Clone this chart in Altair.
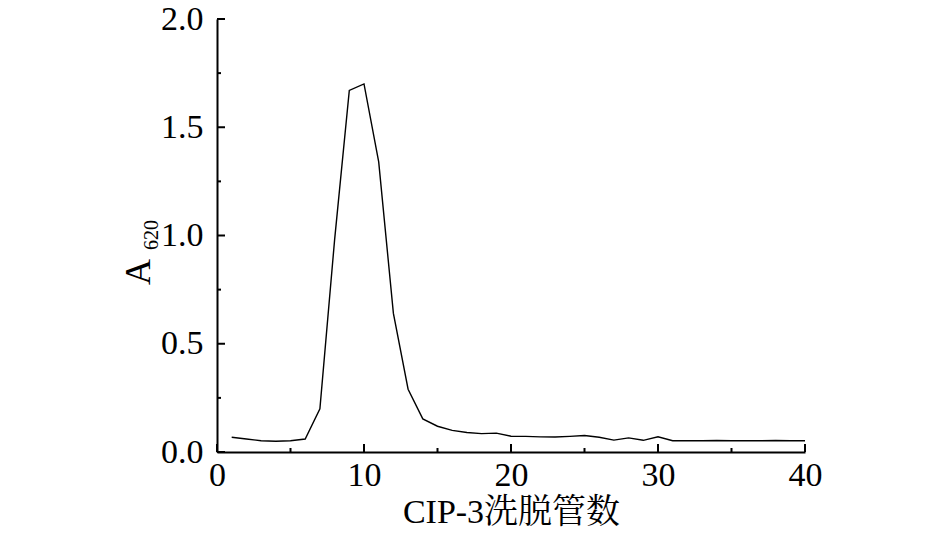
import altair as alt
import pandas as pd

tubes = list(range(1, 41))
a620 = [0.068, 0.060, 0.052, 0.050, 0.052, 0.060, 0.20, 0.98, 1.67, 1.70,
        1.34, 0.64, 0.29, 0.153, 0.119, 0.100, 0.090, 0.085, 0.087, 0.073,
        0.072, 0.070, 0.069, 0.072, 0.076, 0.068, 0.055, 0.065, 0.054, 0.070,
        0.052, 0.052, 0.052, 0.053, 0.052, 0.052, 0.052, 0.053, 0.052, 0.052]

x_major = [0, 10, 20, 30, 40]
x_minor = [5, 15, 25, 35]
y_major = [0.0, 0.5, 1.0, 1.5, 2.0]
y_minor = [0.25, 0.75, 1.25, 1.75]

W, H = 588, 433
FONT = "Liberation Serif, Times New Roman, Noto Serif CJK SC, Noto Sans CJK SC"

df = pd.DataFrame({"tube": tubes, "a": a620})

xs = alt.Scale(domain=[0, 40], nice=False)
ys = alt.Scale(domain=[0, 2.0], nice=False)

line = alt.Chart(df).mark_line(color="black", strokeWidth=1.4).encode(
    x=alt.X("tube:Q", scale=xs,
            axis=alt.Axis(values=x_major, format="d", title="CIP-3洗脱管数",
                          ticks=False, labelPadding=6, titlePadding=3,
                          labelFlush=False)),
    y=alt.Y("a:Q", scale=ys,
            axis=alt.Axis(values=y_major, format=".1f", title=None,
                          ticks=False, labelPadding=14, labelFlush=False)),
)

def xticks(vals, L):
    return alt.Chart(pd.DataFrame({"v": vals})).mark_rule(color="black", strokeWidth=2).encode(
        x=alt.X("v:Q", scale=xs), y=alt.value(H), y2=alt.value(H - L))

def yticks(vals, L):
    return alt.Chart(pd.DataFrame({"v": vals})).mark_rule(color="black", strokeWidth=2).encode(
        y=alt.Y("v:Q", scale=ys), x=alt.value(0), x2=alt.value(L))

ylab_a = alt.Chart(pd.DataFrame({"t": ["A"]})).mark_text(
    angle=270, font=FONT, fontSize=36, color="black", align="center", baseline="middle"
).encode(text="t:N", x=alt.value(-78), y=alt.value(253))

ylab_sub = alt.Chart(pd.DataFrame({"t": ["620"]})).mark_text(
    angle=270, font=FONT, fontSize=20, color="black", align="center", baseline="middle"
).encode(text="t:N", x=alt.value(-65), y=alt.value(216))

chart = alt.layer(
    line, xticks(x_major, 8), xticks(x_minor, 4), yticks(y_major, 8), yticks(y_minor, 4),
    ylab_a, ylab_sub
).properties(
    width=W, height=H,
    background="white",
    autosize=alt.AutoSizeParams(type="none"),
    padding={"left": 209, "top": 11, "right": 132, "bottom": 77},
).configure_view(stroke=None).configure_axis(
    domainColor="black", domainWidth=2, grid=False,
    labelFont=FONT, labelFontSize=34, labelColor="black",
    titleFont=FONT, titleFontSize=34, titleColor="black", titleFontWeight="normal",
)

chart.save("out.html", embed_options={"renderer": "svg", "actions": False})
